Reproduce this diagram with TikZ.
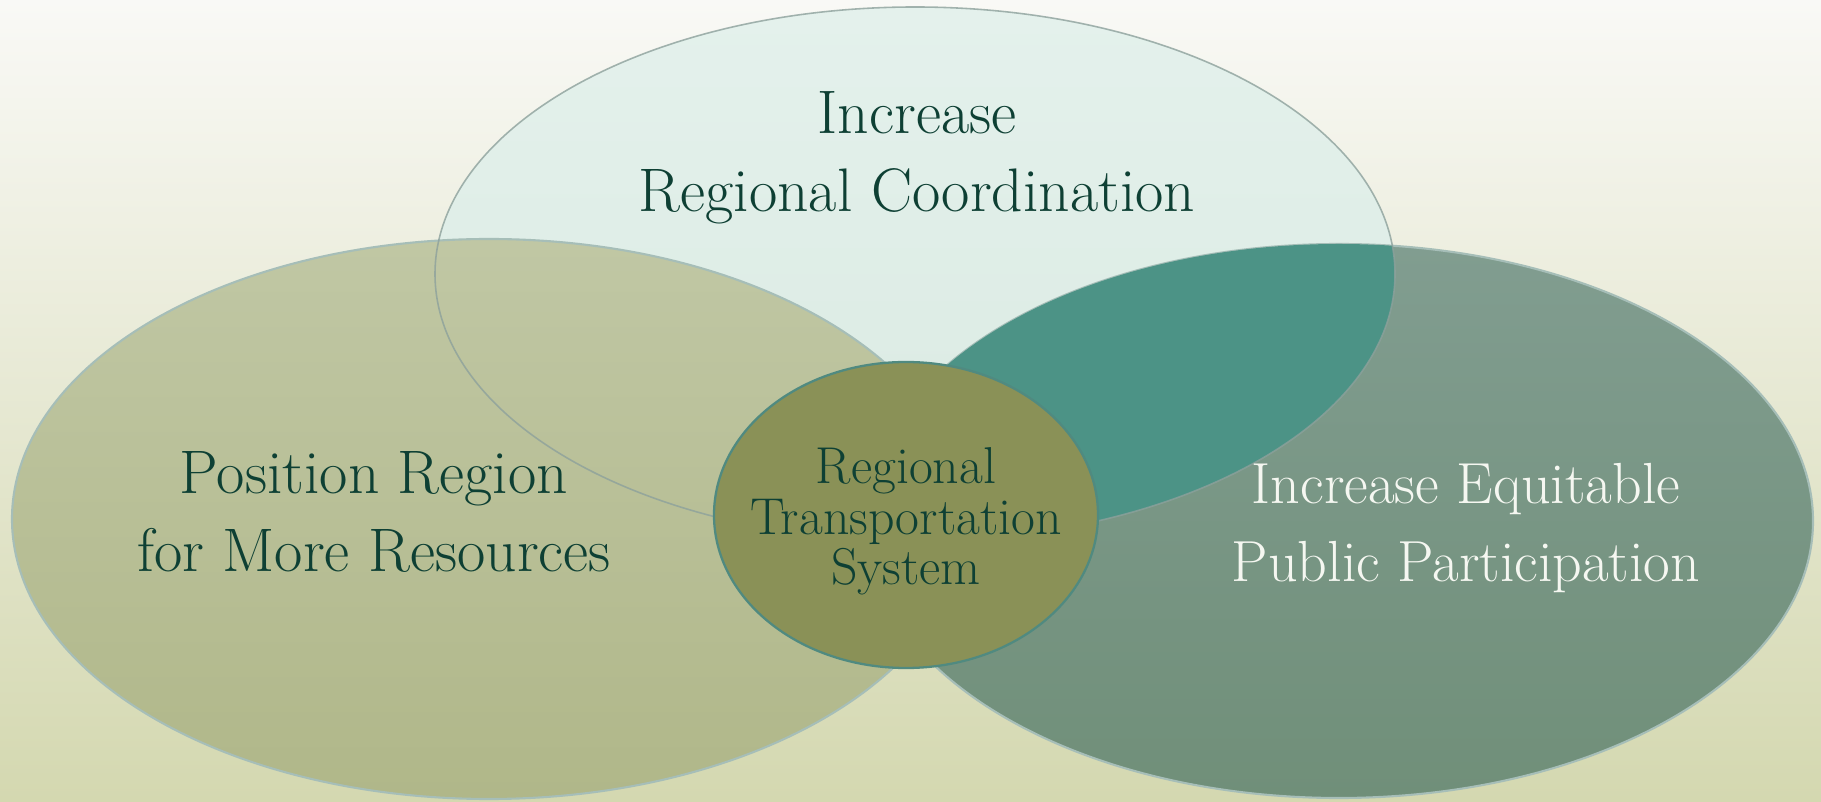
\documentclass[tikz,border=0pt]{standalone}
\definecolor{cbgtop}{RGB}{249,249,246}
\definecolor{cbgbot}{RGB}{212,216,176}
\definecolor{cmintt}{RGB}{228,241,236}
\definecolor{cmintb}{RGB}{218,234,226}
\definecolor{colivt}{RGB}{192,199,164}
\definecolor{colivb}{RGB}{176,183,137}
\definecolor{csaget}{RGB}{129,157,144}
\definecolor{csageb}{RGB}{112,143,121}
\definecolor{cteal}{RGB}{76,147,134}
\definecolor{ccore}{RGB}{138,145,87}
\definecolor{ccoreline}{RGB}{80,138,128}
\definecolor{cedge}{RGB}{166,190,184}
\definecolor{cdark}{RGB}{14,64,52}
\definecolor{clight}{RGB}{245,247,241}

\begin{document}
\begin{tikzpicture}[x=0.02cm,y=0.02cm]

\useasboundingbox (0,0) rectangle (1821,801);

% background
\shade[top color=cbgtop,bottom color=cbgbot] (0,0) rectangle (1821,801);

% top ellipse
\shade[top color=cmintt,bottom color=cmintb] (915,527) ellipse (480 and 267);

% left ellipse
\shade[top color=colivt,bottom color=colivb] (489,282) ellipse (477 and 280);
\draw[color=cedge,line width=1.2pt] (489,282) ellipse (477 and 280);

% right ellipse
\shade[top color=csaget,bottom color=csageb] (1339,280) ellipse (474 and 277);
\draw[color=cedge,line width=1.2pt] (1339,280) ellipse (474 and 277);

% overlap top / right
\begin{scope}
\clip (915,527) ellipse (480 and 267);
\fill[color=cteal] (1339,280) ellipse (474 and 277);
\end{scope}

\draw[color=cedge!85!black,line width=0.9pt,opacity=0.8] (915,527) ellipse (480 and 267);

% core
\draw[color=ccoreline,fill=ccore,line width=1.3pt] (906,286) ellipse (192 and 153);

% labels (base = last line)
\begin{scope}[every node/.style={align=center,anchor=base,inner sep=0pt}]
\node[color=cdark,font=\fontsize{35}{44.5}\selectfont] (coord) at (917,589) {Increase\\Regional Coordination};
\node[color=cdark,font=\fontsize{35}{44.5}\selectfont] (res) at (374,229) {Position Region\\for More Resources};
\node[color=clight,font=\fontsize{33}{44.5}\selectfont] (equi) at (1466,219) {Increase Equitable\\Public Participation};
\node[color=cdark,font=\fontsize{29.5}{29}\selectfont] (rts) at (906,216) {Regional\\Transportation\\System};
\end{scope}

\end{tikzpicture}
\end{document}
